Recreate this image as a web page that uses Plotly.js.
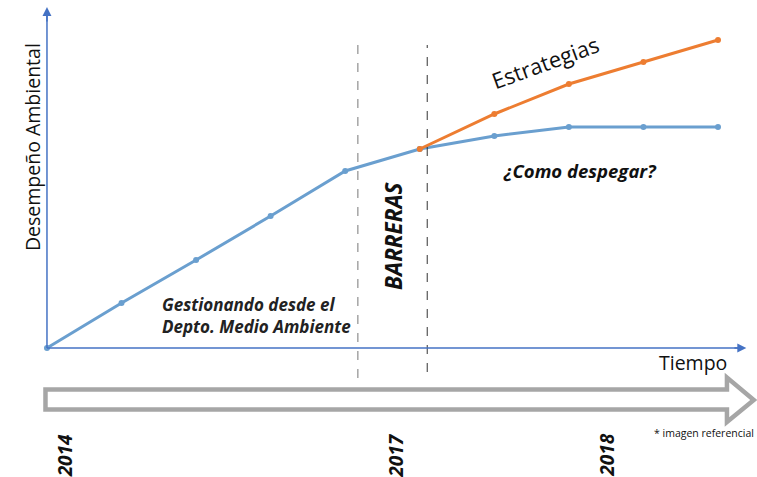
<!DOCTYPE html>
<html>
<head>
<meta charset="utf-8">
<script src="https://cdn.plot.ly/plotly-3.0.1.min.js"></script>
<style>html,body{margin:0;padding:0;background:#fff;}#chart{width:757px;height:477px;}</style>
</head>
<body>
<div id="chart"></div>
<script>
// Data
var periods = [0, 1, 2, 3, 4, 5, 6, 7, 8, 9];
var baseValues = [0, 4.5, 8.8, 13.2, 17.7, 19.9, 21.2, 22.1, 22.1, 22.1];
var strategyPeriods = [5, 6, 7, 8, 9];
var strategyValues = [19.9, 23.4, 26.4, 28.6, 30.8];
var barrierBounds = [4.17, 5.1];
var yearLabels = ['2014', '2017', '2018'];
var yearPositions = [0.24, 4.67, 7.5];

var blue = '#6a9fcf';
var orange = '#ed7d31';
var axisBlue = '#4472c4';
var FONT = 'Open Sans, Noto Sans, sans-serif';

var traces = [
  {x: periods, y: baseValues, mode: 'lines+markers', line: {color: blue, width: 3}, marker: {color: blue, size: 6}, hoverinfo: 'skip'},
  {x: strategyPeriods, y: strategyValues, mode: 'lines+markers', line: {color: orange, width: 3}, marker: {color: orange, size: 6}, hoverinfo: 'skip'}
];

var shapes = [
  {type: 'line', xref: 'x', yref: 'y', x0: barrierBounds[0], x1: barrierBounds[0], y0: -3.0, y1: 30.3, line: {color: '#777', width: 1, dash: 'dash'}},
  {type: 'line', xref: 'x', yref: 'y', x0: barrierBounds[1], x1: barrierBounds[1], y0: -2.4, y1: 30.3, line: {color: '#333', width: 1, dash: 'dash'}},
  {type: 'line', xref: 'x', yref: 'y', x0: 0, x1: 9.3, y0: 0, y1: 0, line: {color: axisBlue, width: 1.5}},
  {type: 'line', xref: 'x', yref: 'y', x0: 0, x1: 0, y0: 0, y1: 33.6, line: {color: axisBlue, width: 1.5}},
  {type: 'path', xref: 'x', yref: 'y',
   path: 'M -0.02 -4.15 L 9.12 -4.15 L 9.12 -2.95 L 9.48 -5.2 L 9.12 -7.4 L 9.12 -6.15 L -0.02 -6.15 Z',
   line: {color: '#a6a6a6', width: 4.5}, fillcolor: 'rgba(255,255,255,1)'}
];

var ann = [
  {x: 9.38, y: 0, ax: 9.2, ay: 0, axref: 'x', ayref: 'y', xref: 'x', yref: 'y', text: '', showarrow: true, arrowhead: 2, arrowsize: 1.2, arrowwidth: 1.5, arrowcolor: axisBlue},
  {x: 0, y: 34.1, ax: 0, ay: 32.5, axref: 'x', ayref: 'y', xref: 'x', yref: 'y', text: '', showarrow: true, arrowhead: 2, arrowsize: 1.2, arrowwidth: 1.5, arrowcolor: axisBlue},
  {x: -0.2, y: 20.1, xref: 'x', yref: 'y', text: 'Desempeño Ambiental', textangle: -90, showarrow: false, font: {family: FONT, size: 19.5, color: '#111'}},
  {x: 8.66, y: -1.4, xref: 'x', yref: 'y', text: 'Tiempo', showarrow: false, font: {family: FONT, size: 19.5, color: '#111'}},
  {x: 4.64, y: 11.3, xref: 'x', yref: 'y', text: '<b><i>BARRERAS</i></b>', textangle: -90, showarrow: false, font: {family: FONT, size: 22.5, color: '#111'}},
  {x: 6.68, y: 28.6, xref: 'x', yref: 'y', text: 'Estrategias', textangle: -20, showarrow: false, font: {family: FONT, size: 22, color: '#111'}},
  {x: 7.15, y: 17.8, xref: 'x', yref: 'y', text: '<b><i>¿Como despegar?</i></b>', showarrow: false, font: {family: FONT, size: 18.5, color: '#111'}},
  {x: 1.52, y: 3.3, xref: 'x', yref: 'y', xanchor: 'left', align: 'left', text: '<b><i>Gestionando desde el<br>Depto. Medio Ambiente</i></b>', showarrow: false, font: {family: FONT, size: 17, color: '#222'}},
  {x: 9.51, y: -8.5, xref: 'x', yref: 'y', xanchor: 'right', text: '* imagen referencial', showarrow: false, font: {family: FONT, size: 10.5, color: '#111'}}
];
for (var i = 0; i < yearLabels.length; i++) {
  ann.push({x: yearPositions[i], y: -10.75, xref: 'x', yref: 'y', text: '<b><i>' + yearLabels[i] + '</i></b>', textangle: -90, showarrow: false, font: {family: FONT, size: 19, color: '#111'}});
}

var layout = {
  width: 757, height: 477,
  margin: {l: 0, r: 0, t: 0, b: 0},
  paper_bgcolor: '#fff', plot_bgcolor: '#fff',
  showlegend: false,
  xaxis: {range: [-0.630, 9.523], visible: false, fixedrange: true},
  yaxis: {range: [-12.9, 34.8], visible: false, fixedrange: true},
  shapes: shapes,
  annotations: ann
};

Plotly.newPlot('chart', traces, layout, {displayModeBar: false, staticPlot: true});
</script>
</body>
</html>
